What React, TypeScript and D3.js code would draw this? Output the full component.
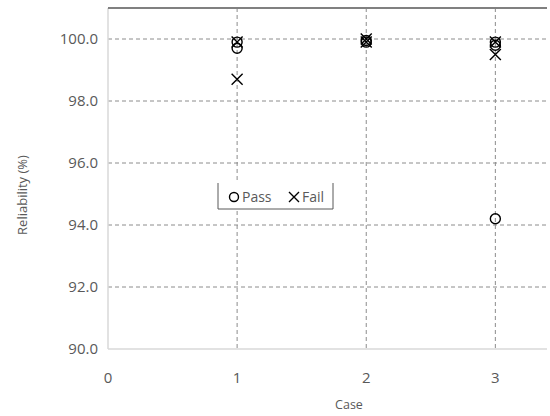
import React from 'react';
import * as d3 from 'd3';

const caseTicks = [0, 1, 2, 3];
const reliabilityTicks = [90, 92, 94, 96, 98, 100];

// pass/fail reliability by case
const passCase = [1, 1, 2, 2, 3, 3, 3];
const passValue = [99.9, 99.7, 99.95, 99.9, 99.9, 99.8, 94.2];
const failCase = [1, 1, 2, 2, 3, 3];
const failValue = [99.9, 98.7, 100.0, 99.9, 99.9, 99.5];

const W = 550;
const H = 416;
const margin = { top: 8, right: 3, bottom: 67, left: 108 };

const App = () => {
  const x = d3.scaleLinear().domain([0, 3.4]).range([margin.left, W - margin.right]);
  const y = d3.scaleLinear().domain([90, 101]).range([H - margin.bottom, margin.top]);
  const font = "'Open Sans', 'Noto Sans', sans-serif";
  const textColor = '#595959';
  const xs = (cx: number, cy: number, s: number) =>
    `M${cx - s},${cy - s}L${cx + s},${cy + s}M${cx - s},${cy + s}L${cx + s},${cy - s}`;

  return (
    <div style={{ position: 'absolute', left: 0, top: 0 }}>
      <svg width={W} height={H} style={{ display: 'block', background: '#fff' }}>
        {/* grid */}
        {reliabilityTicks.filter(v => v > 90).map(v => (
          <line key={'h' + v} x1={x(0)} x2={x(3.4)} y1={y(v)} y2={y(v)}
            stroke="#8c8c8c" strokeWidth={1} strokeDasharray="4,3" />
        ))}
        {caseTicks.filter(v => v > 0).map(v => (
          <line key={'v' + v} x1={x(v)} x2={x(v)} y1={y(101)} y2={y(90)}
            stroke="#8c8c8c" strokeWidth={1} strokeDasharray="4,3" />
        ))}
        {/* axes */}
        <line x1={x(0)} x2={x(0)} y1={y(101)} y2={y(90)} stroke="#d9d9d9" strokeWidth={1.5} />
        <line x1={x(0)} x2={x(3.4)} y1={y(90)} y2={y(90)} stroke="#d9d9d9" strokeWidth={1.5} />
        <line x1={x(0)} x2={x(3.4)} y1={y(101)} y2={y(101)} stroke="#808080" strokeWidth={2} />

        {/* tick labels */}
        {reliabilityTicks.map(v => (
          <text key={'yl' + v} x={98} y={y(v)} dy="0.35em" textAnchor="end"
            fontFamily={font} fontSize={15} fill={textColor}>{d3.format('.1f')(v)}</text>
        ))}
        {caseTicks.map(v => (
          <text key={'xl' + v} x={x(v)} y={378} dy="0.35em" textAnchor="middle"
            fontFamily={font} fontSize={15} fill={textColor}>{v}</text>
        ))}
        <text x={349} y={405} dy="0.35em" textAnchor="middle" fontFamily={font} fontSize={12.5} fill={textColor}>Case</text>
        <text transform={`translate(22,195) rotate(-90)`} dy="0.35em" textAnchor="middle"
          fontFamily={font} fontSize={13} fill={textColor}>Reliability (%)</text>

        {/* markers */}
        {passCase.map((c, i) => (
          <circle key={'p' + i} cx={x(c)} cy={y(passValue[i])} r={5} fill="none" stroke="#000" strokeWidth={1.4} />
        ))}
        {failCase.map((c, i) => (
          <path key={'f' + i} d={xs(x(c), y(failValue[i]), 5.5)} stroke="#000" strokeWidth={1.4} fill="none" />
        ))}

        {/* legend */}
        <path d="M218,183L218,209L333,209L333,183" fill="#fff" stroke="#595959" strokeWidth={1} />
        <circle cx={234} cy={197} r={4.5} fill="none" stroke="#000" strokeWidth={1.4} />
        <text x={242} y={197} dy="0.35em" fontFamily={font} fontSize={14} fill={textColor}>Pass</text>
        <path d={xs(294, 197, 5)} stroke="#000" strokeWidth={1.4} fill="none" />
        <text x={302} y={197} dy="0.35em" fontFamily={font} fontSize={14} fill={textColor}>Fail</text>
      </svg>
    </div>
  );
};

export default App;
